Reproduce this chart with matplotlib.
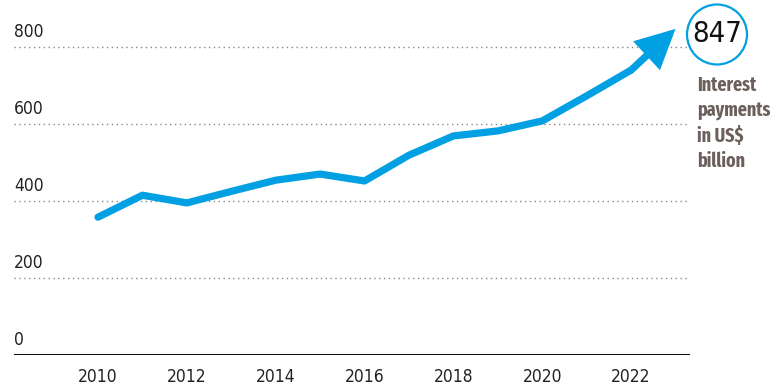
import matplotlib
matplotlib.use("Agg")
import matplotlib.pyplot as plt
from matplotlib.patches import Circle, FancyArrowPatch
from matplotlib import font_manager
from matplotlib.font_manager import FontProperties

years = [2010, 2011, 2012, 2013, 2014, 2015, 2016, 2017, 2018, 2019, 2020, 2021, 2022, 2023]
interest = [358, 415, 395, 425, 454, 470, 452, 519, 569, 582, 608, 673, 740, 847]
y_ticks = [0, 200, 400, 600, 800]
x_ticks = [2010, 2012, 2014, 2016, 2018, 2020, 2022]
label_text = "Interest\npayments\nin US$\nbillion"
callout = "847"


def _wnum(w):
    if isinstance(w, (int, float)):
        return w
    return font_manager.weight_dict.get(w, 400)


def find_condensed(target, extra=False):
    best = None
    for f in font_manager.fontManager.ttflist:
        cond = ('Narrow' in f.name or 'Condensed' in f.name or
                'Condensed' in f.fname or 'Narrow' in f.fname or
                f.stretch in ('condensed', 'semi-condensed', 'extra-condensed'))
        if not cond or f.style != 'normal':
            continue
        if 'Mono' in f.name or 'Serif' in f.name or 'Italic' in f.fname:
            continue
        score = abs(_wnum(f.weight) - target)
        is_extra = 'ExtraCondensed' in f.fname or f.stretch == 'extra-condensed'
        is_semi = 'SemiCondensed' in f.fname or f.stretch == 'semi-condensed'
        if is_semi:
            score += 60
        if is_extra and not extra:
            score += 50
        if extra and not is_extra:
            score += 150
        if best is None or score < best[0]:
            best = (score, f.fname)
    return best[1] if best else None


reg_path = find_condensed(400)
bold_path = find_condensed(700, extra=True)


def fp(size, bold=False):
    path = bold_path if bold else reg_path
    if path:
        return FontProperties(fname=path, size=size)
    return FontProperties(family='Liberation Sans', size=size,
                          weight='bold' if bold else 'normal')


BLUE = '#00a0e3'
W, H = 777, 385
fig = plt.figure(figsize=(W / 100, H / 100), dpi=100)
ax = fig.add_axes([14 / W, (H - 355) / H, (690 - 14) / W, 346.5 / H])
ax.set_xlim(2008.109, 2023.327)
ax.set_ylim(0, 900)

for s in ax.spines.values():
    s.set_visible(False)
ax.set_yticks([])
ax.set_xticks(x_ticks)
ax.set_xticklabels([str(x) for x in x_ticks], fontproperties=fp(12.5), color='#222222')
ax.tick_params(axis='x', length=0, pad=9)

for v in y_ticks[1:]:
    ax.axhline(v, color='#888888', lw=1.0, ls=(0, (1, 2.5)), zorder=1)
ax.axhline(0, color='#111111', lw=2.2, zorder=2)

ytr = ax.get_yaxis_transform()
for v in y_ticks:
    ax.annotate(str(v), xy=(0, v), xycoords=ytr, xytext=(0, 6), textcoords='offset pixels',
                ha='left', va='bottom', fontproperties=fp(12.5), color='#222222')

ax.plot(years[:-1], interest[:-1], color=BLUE, lw=5.2, solid_capstyle='round',
        solid_joinstyle='round', zorder=3)
arrow = FancyArrowPatch((years[-2], interest[-2]), (years[-1], interest[-1]),
                        arrowstyle='-|>,head_length=20,head_width=10', mutation_scale=1,
                        color=BLUE, lw=5.2, shrinkA=0, shrinkB=0, joinstyle='miter',
                        capstyle='round', zorder=3)
ax.add_patch(arrow)

circ = Circle((7.17, (H - 34.5) / 100), 0.30, transform=fig.dpi_scale_trans,
              facecolor='white', edgecolor=BLUE, lw=1.6)
fig.add_artist(circ)
fig.text(717 / W, 1 - 34.5 / H, callout, ha='center', va='center',
         fontproperties=fp(21), color='#111111')
fig.text(697 / W, 1 - 76 / H, label_text, ha='left', va='top',
         fontproperties=fp(14, bold=True), color='#6b605b', linespacing=1.35)

fig.savefig('out.png', dpi=100)
